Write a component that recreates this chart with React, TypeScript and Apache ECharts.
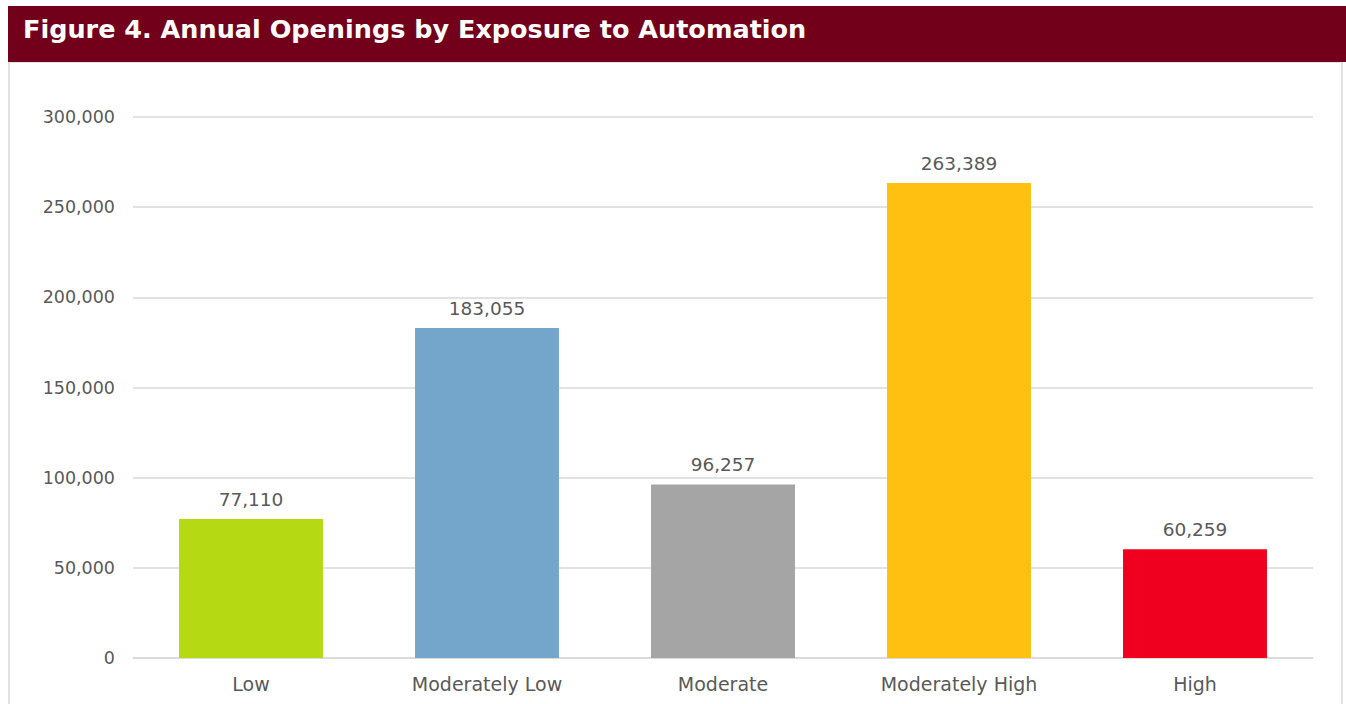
import React, { useEffect, useRef } from "react";
import * as echarts from "echarts";

const categories = ["Low", "Moderately Low", "Moderate", "Moderately High", "High"];
const openings = [77110, 183055, 96257, 263389, 60259];
const barColors = ["#b5da14", "#74a6cc", "#a5a5a5", "#ffc012", "#f0001e"];
const titleText = "Figure 4. Annual Openings by Exposure to Automation";

export default function App() {
  const ref = useRef<HTMLDivElement>(null);

  useEffect(() => {
    if (!ref.current) return;
    const chart = echarts.init(ref.current, null, { renderer: "svg" });
    const font = "'DejaVu Sans', 'Liberation Sans', Arial, sans-serif";
    chart.setOption({
      animation: false,
      backgroundColor: "#ffffff",
      textStyle: { fontFamily: font },
      graphic: [
        {
          type: "rect",
          shape: { x: 9, y: 62, width: 1333, height: 700 },
          style: { fill: "#ffffff", stroke: "#d9d9d9", lineWidth: 1.5 },
          z: -1,
        },
        {
          type: "rect",
          shape: { x: 8, y: 6, width: 1338, height: 56 },
          style: { fill: "#72001a" },
          z: 10,
        },
        {
          type: "text",
          x: 23,
          y: 29,
          style: {
            text: titleText,
            fill: "#ffffff",
            font: `bold 25.5px ${font}`,
            textVerticalAlign: "middle",
          },
          z: 11,
        },
      ],
      grid: { left: 133, right: 33, top: 117, bottom: 46, containLabel: false },
      xAxis: {
        type: "category",
        data: categories,
        axisLine: { show: true, lineStyle: { color: "#d9d9d9", width: 1.5 } },
        axisTick: { show: false },
        axisLabel: { color: "#595959", fontSize: 19, margin: 16, fontFamily: font },
      },
      yAxis: {
        type: "value",
        min: 0,
        max: 300000,
        interval: 50000,
        axisLine: { show: false },
        axisTick: { show: false },
        splitLine: { lineStyle: { color: "#d9d9d9", width: 1.5 } },
        axisLabel: {
          color: "#595959",
          fontSize: 17.5,
          margin: 18,
          fontFamily: font,
          formatter: (v: number) => v.toLocaleString("en-US"),
        },
      },
      series: [
        {
          type: "bar",
          barWidth: "61%",
          data: openings.map((v, i) => ({ value: v, itemStyle: { color: barColors[i] } })),
          label: {
            show: true,
            position: "top",
            distance: 10,
            color: "#595959",
            fontSize: 18.5,
            fontFamily: font,
            formatter: (p: any) => Number(p.value).toLocaleString("en-US"),
          },
        },
      ],
    });
    return () => chart.dispose();
  }, []);

  return (
    <div
      ref={ref}
      style={{ position: "fixed", left: 0, top: 0, width: 1346, height: 704 }}
    />
  );
}
